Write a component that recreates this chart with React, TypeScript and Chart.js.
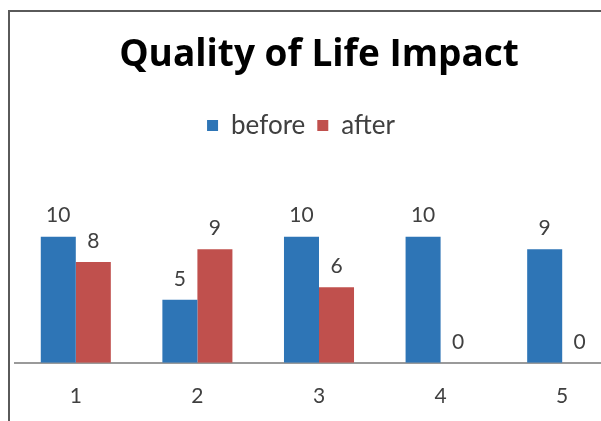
import React, { useEffect, useRef } from "react";
import { Chart, registerables } from "chart.js";

Chart.register(...registerables);

const categories = ["1", "2", "3", "4", "5"];
const beforeValues = [10, 5, 10, 10, 9];
const afterValues = [8, 9, 6, 0, 0];
const seriesNames = ["before", "after"];
const chartTitle = "Quality of Life Impact";

const BLUE = "#2E75B6";
const RED = "#C0504D";
const TEXT = "#404040";

const valueLabels = {
  id: "valueLabels",
  afterDatasetsDraw(chart: any) {
    const ctx = chart.ctx;
    ctx.save();
    ctx.font = "21px Lato";
    ctx.fillStyle = TEXT;
    ctx.textAlign = "center";
    ctx.textBaseline = "middle";
    chart.data.datasets.forEach((ds: any, di: number) => {
      const meta = chart.getDatasetMeta(di);
      meta.data.forEach((el: any, i: number) => {
        ctx.fillText(String(ds.data[i]), el.x, el.y - 21);
      });
    });
    ctx.restore();
  },
};

const legendShift = {
  id: "legendShift",
  afterLayout(chart: any) {
    if (chart.legend) {
      chart.legend.left -= 18;
      chart.legend.right -= 18;
    }
  },
};

export default function App() {
  const ref = useRef<HTMLCanvasElement>(null);
  useEffect(() => {
    if (!ref.current) return;
    const chart = new Chart(ref.current, {
      type: "bar",
      data: {
        labels: categories,
        datasets: [
          {
            label: seriesNames[0],
            data: beforeValues,
            backgroundColor: BLUE,
            categoryPercentage: 0.576,
            barPercentage: 1,
          },
          {
            label: seriesNames[1],
            data: afterValues,
            backgroundColor: RED,
            categoryPercentage: 0.576,
            barPercentage: 1,
          },
        ],
      },
      options: {
        animation: false,
        responsive: false,
        layout: { padding: { left: 15, right: 17, top: 0, bottom: 0 } },
        plugins: {
          title: {
            display: true,
            text: chartTitle,
            color: "#000",
            font: { family: "Open Sans", size: 37, weight: "bold" },
            padding: { top: 33, bottom: 23 },
          },
          legend: {
            display: true,
            position: "top",
            labels: {
              color: TEXT,
              font: { family: "Lato", size: 26 },
              boxWidth: 11,
              boxHeight: 11,
              padding: 12,
            },
          },
          tooltip: { enabled: false },
        },
        scales: {
          x: {
            grid: { display: false, drawTicks: false },
            border: { display: true, color: "#9a9a9a", width: 2 },
            ticks: {
              color: TEXT,
              font: { family: "Lato", size: 21 },
              padding: 21,
            },
          },
          y: {
            display: false,
            min: 0,
            max: 17,
          },
        },
      },
      plugins: [valueLabels, legendShift],
    });
    return () => chart.destroy();
  }, []);

  return (
    <div
      style={{
        position: "fixed",
        left: 0,
        top: 0,
        width: 601,
        height: 421,
        overflow: "hidden",
        background: "#fff",
      }}
    >
      <canvas
        ref={ref}
        width={640}
        height={430}
        style={{ position: "absolute", left: 0, top: 0 }}
      />
      <div
        style={{
          position: "absolute",
          left: 8,
          top: 10,
          width: 700,
          height: 500,
          borderLeft: "2px solid #5a5a5a",
          borderTop: "2px solid #5a5a5a",
          pointerEvents: "none",
        }}
      />
    </div>
  );
}
